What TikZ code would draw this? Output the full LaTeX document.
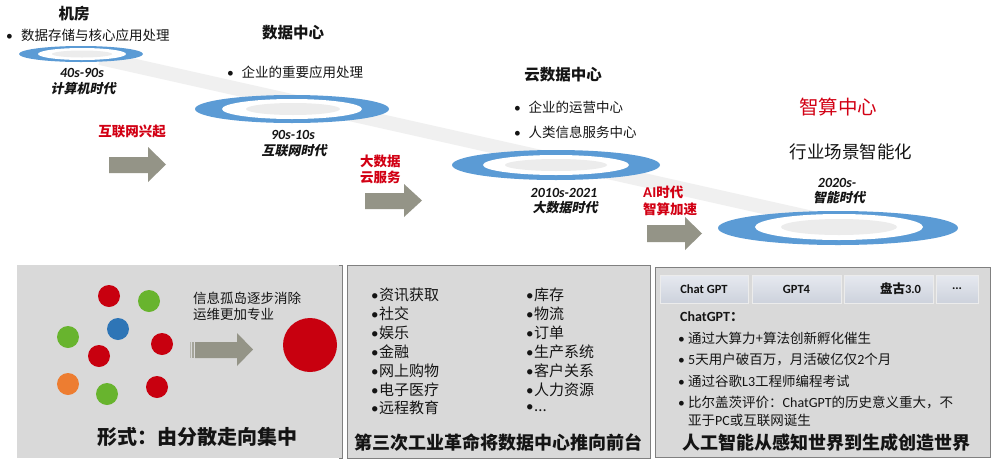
\documentclass[tikz,border=0pt]{standalone}
\usepackage{fontspec}
\setmainfont{Noto Sans CJK SC}
\newfontfamily\slantfont{Noto Sans CJK SC}[FakeSlant=0.2]
\newfontfamily\calfont{Carlito}
\newcommand\fsz[2]{\fontsize{#1}{#2}\selectfont}
\newcommand\mydots{...}
\newcommand\bu{{\calfont •}}
\definecolor{ringblue}{RGB}{91,155,213}
\definecolor{ringgray}{RGB}{236,236,236}
\definecolor{bandgray}{RGB}{240,240,240}
\definecolor{arrowgray}{RGB}{148,148,135}
\definecolor{labred}{RGB}{210,0,20}
\definecolor{panelfill}{RGB}{217,217,217}
\definecolor{panelborder}{RGB}{128,128,128}
\definecolor{cred}{RGB}{200,0,15}
\definecolor{cgreen}{RGB}{104,180,46}
\definecolor{cblue}{RGB}{46,117,182}
\definecolor{corange}{RGB}{237,125,49}
\definecolor{btntop}{RGB}{230,233,240}
\definecolor{btnbot}{RGB}{205,210,220}
\definecolor{txt}{RGB}{20,20,20}
\begin{document}
\begin{tikzpicture}[x=1pt,y=-1pt,
  every node/.style={inner sep=0pt, text=txt},
  title/.style={font=\bfseries\fsz{15.5}{18}},
  bul/.style={anchor=west, font=\fsz{13.5}{16}},
  eranum/.style={font=\calfont\bfseries\itshape\fsz{14}{16}},
  eracn/.style={font=\slantfont\bfseries\fsz{13}{16}},
  redlab/.style={text=labred, font=\bfseries\fsz{13.5}{16}},
  listitem/.style={anchor=west, font=\fsz{15}{18}},
  bigtitle/.style={font=\bfseries\fsz{18}{22}},
  btn/.style={draw=white!85!gray, top color=btntop, bottom color=btnbot, minimum height=28pt, font=\calfont\bfseries\fsz{12.5}{15}},
  pbul/.style={anchor=west, font=\fsz{13.5}{16}},
  blockarrow/.style={fill=arrowgray}
]
\useasboundingbox (0,0) rectangle (997,464);
\fill[white] (0,0) rectangle (997,464);

% diagonal band
\draw[bandgray, line width=14pt] (100,58) -- (835,223);

% rings
\fill[ringblue] (81,54) ellipse [x radius=62pt, y radius=8pt];
\fill[white] (82,54) ellipse [x radius=44pt, y radius=6pt];
\fill[ringgray] (82,54) ellipse [x radius=30pt, y radius=3.5pt];

\fill[ringblue] (292,109) ellipse [x radius=97pt, y radius=14pt];
\fill[white] (292,109) ellipse [x radius=70pt, y radius=10pt];
\fill[ringgray] (293,109) ellipse [x radius=47pt, y radius=6pt];

\fill[ringblue] (556,165) ellipse [x radius=104pt, y radius=15pt];
\fill[white] (556,165) ellipse [x radius=73pt, y radius=10pt];
\fill[ringgray] (556,165) ellipse [x radius=51pt, y radius=6pt];

\fill[ringblue] (838,228) ellipse [x radius=120pt, y radius=17pt];
\fill[white] (839,227) ellipse [x radius=84pt, y radius=13pt];
\fill[ringgray] (839,227) ellipse [x radius=58pt, y radius=8pt];

% stage 1
\node[title] (t1) at (74,14) {机房};
\node[bul] (b1) at (6,35) {\makebox[15pt][l]{\bu}数据存储与核心应用处理};
\node[eranum] (e1a) at (82,73) {40s-90s};
\node[eracn] (e1b) at (83,89) {计算机时代};

% stage 2
\node[title] (t2) at (293,33) {数据中心};
\node[bul] (b2) at (227,72) {\makebox[14.5pt][l]{\bu}企业的重要应用处理};
\node[eranum] (e2a) at (293,135) {90s-10s};
\node[eracn] (e2b) at (294,151) {互联网时代};

% stage 3
\node[title] (t3) at (563,75) {云数据中心};
\node[bul] (b3a) at (514,107) {\makebox[14.5pt][l]{\bu}企业的运营中心};
\node[bul] (b3b) at (514,132) {\makebox[14.5pt][l]{\bu}人类信息服务中心};
\node[eranum] (e3a) at (564,193) {2010s-2021};
\node[eracn] (e3b) at (565,208) {大数据时代};

% stage 4
\node[text=labred, font=\fsz{19.5}{23}] (t4) at (838,107) {智算中心};
\node[font=\fsz{17.5}{21}] (t4b) at (851,152) {行业场景智能化};
\node[eranum] (e4a) at (837,183) {2020s-};
\node[eracn] (e4b) at (839,198) {智能时代};

% red transition labels
\node[redlab] (r1) at (132,131) {互联网兴起};
\node[redlab, anchor=west] (r2a) at (360,161) {大数据};
\node[redlab, anchor=west] (r2b) at (360,177) {云服务};
\node[redlab, anchor=west] (r3a) at (643,192) {{\calfont\bfseries\fsz{15}{16}AI}时代};
\node[redlab, anchor=west] (r3b) at (643,209) {智算加速};

% block arrows
\fill[blockarrow] (109,157) -- (148,157) -- (148,147) -- (166,164.5) -- (148,182) -- (148,173) -- (109,173) -- cycle;
\fill[blockarrow] (365,193) -- (404,193) -- (404,184) -- (422,200.5) -- (404,217) -- (404,209) -- (365,209) -- cycle;
\fill[blockarrow] (647,225) -- (685,225) -- (685,217) -- (702,233.5) -- (685,250) -- (685,242) -- (647,242) -- cycle;

% ---------- panel 1 ----------
\fill[panelfill] (17,265) rectangle (342,458);
\draw[panelborder, line width=0.8pt] (339,265) -- (342,265) -- (342,458) -- (339,458);
\fill[cred] (109,296) circle (11pt);
\fill[cgreen] (149,301) circle (11pt);
\fill[cgreen] (68,337) circle (11pt);
\fill[cblue] (118,329) circle (11pt);
\fill[cred] (162,344) circle (11pt);
\fill[cred] (99,356) circle (11pt);
\fill[corange] (68,384) circle (11pt);
\fill[cgreen] (107,394) circle (11pt);
\fill[cred] (157,387) circle (11pt);
\fill[cred] (310,345) circle (27pt);
\fill[arrowgray!70] (190,342) rectangle (191.2,358);
\fill[arrowgray!85] (192.2,342) rectangle (193.6,358);
\fill[blockarrow] (195,342) -- (237,342) -- (237,333) -- (253,349.5) -- (237,366) -- (237,358) -- (195,358) -- cycle;
\node[anchor=west, font=\fsz{13.5}{16}] (p1a) at (193,298) {信息孤岛逐步消除};
\node[anchor=west, font=\fsz{13.5}{16}] (p1b) at (193,314) {运维更加专业};
\node[font=\bfseries\fsz{20}{24}] (p1t) at (197,437) {形式：由分散走向集中};

% ---------- panel 2 ----------
\draw[panelborder, line width=1pt, fill=panelfill] (347,265) rectangle (650,458);
\node[listitem] (L1) at (371,295) {\makebox[8pt][l]{\bu}资讯获取};
\node[listitem] (L2) at (371,314) {\makebox[8pt][l]{\bu}社交};
\node[listitem] (L3) at (371,333) {\makebox[8pt][l]{\bu}娱乐};
\node[listitem] (L4) at (371,352) {\makebox[8pt][l]{\bu}金融};
\node[listitem] (L5) at (371,371) {\makebox[8pt][l]{\bu}网上购物};
\node[listitem] (L6) at (371,389.5) {\makebox[8pt][l]{\bu}电子医疗};
\node[listitem] (L7) at (371,408) {\makebox[8pt][l]{\bu}远程教育};
\node[listitem] (R1) at (526,295) {\makebox[8pt][l]{\bu}库存};
\node[listitem] (R2) at (526,314) {\makebox[8pt][l]{\bu}物流};
\node[listitem] (R3) at (526,333) {\makebox[8pt][l]{\bu}订单};
\node[listitem] (R4) at (526,352) {\makebox[8pt][l]{\bu}生产系统};
\node[listitem] (R5) at (526,371) {\makebox[8pt][l]{\bu}客户关系};
\node[listitem] (R6) at (526,389.5) {\makebox[8pt][l]{\bu}人力资源};
\node[listitem] (R7) at (526,408) {\makebox[8pt][l]{\bu}\mydots};
\node[bigtitle] (p2t) at (498,443) {第三次工业革命将数据中心推向前台};

% ---------- panel 3 ----------
\draw[panelborder, line width=1pt, fill=panelfill] (655,267) rectangle (990,457);
\node[btn, minimum width=88pt] (bt1) at (704,289) {Chat GPT};
\node[btn, minimum width=89pt] (bt2) at (796.5,289) {GPT4};
\node[btn, minimum width=89pt] (bt3) at (888.5,289) {\hspace*{24pt}{\rmfamily\bfseries 盘古}3.0};
\node[btn, minimum width=42pt] (bt4) at (957,289) {\mydots};
\node[anchor=west, font=\fsz{13.5}{16}] (cg) at (680,317) {{\calfont\bfseries\fsz{14}{16}ChatGPT}\textbf{：}};
\node[pbul] (q1) at (678,338) {\makebox[10pt][l]{\bu}通过大算力+算法创新孵化催生};
\node[pbul] (q2) at (678,360) {\makebox[10pt][l]{\bu}{\calfont\fsz{14}{16}5}天用户破百万，月活破亿仅{\calfont\fsz{14}{16}2}个月};
\node[pbul] (q3) at (678,381) {\makebox[10pt][l]{\bu}通过谷歌{\calfont\fsz{14}{16}L3}工程师编程考试};
\node[pbul] (q4) at (678,402) {\makebox[10pt][l]{\bu}比尔盖茨评价：{\calfont\fsz{14}{16}ChatGPT}的历史意义重大，不};
\node[pbul] (q5) at (688,420) {亚于{\calfont\fsz{14}{16}PC}或互联网诞生};
\node[bigtitle] (p3t) at (826,443) {人工智能从感知世界到生成创造世界};
\end{tikzpicture}
\end{document}
